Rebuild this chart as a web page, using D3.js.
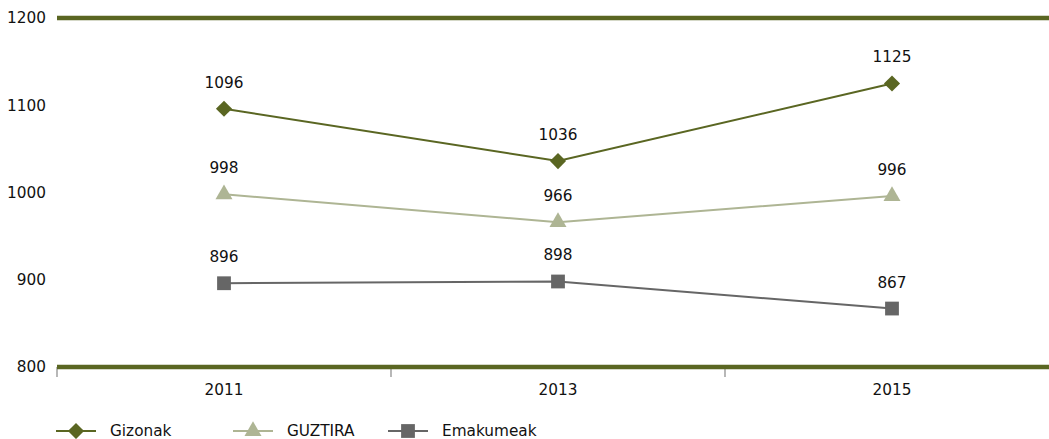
<!DOCTYPE html>
<html><head><meta charset="utf-8">
<script src="https://cdn.jsdelivr.net/npm/d3@7/dist/d3.min.js"></script>
<style>body{margin:0;background:#fff}svg{display:block;font-family:"DejaVu Sans",Verdana,sans-serif}</style>
</head><body><svg id="c" width="1049" height="439"></svg>
<script>
const categories = ["2011","2013","2015"];
const seriesNames = ["Gizonak","GUZTIRA","Emakumeak"];
const gizonak = [1096,1036,1125];
const guztira = [998,966,996];
const emakumeak = [896,898,867];
const yTicks = [800,900,1000,1100,1200];
const colors = ["#5a6622","#aeb594","#666666"];
const series = [gizonak, guztira, emakumeak];

const svg = d3.select("#c");
const x = d3.scaleBand().domain(categories).range([57,1059]);
const y = d3.scaleLinear().domain([800,1200]).range([367,18]);
const FS = 15.3;

function marker(sel, k){
  if(k===0){
    sel.append("rect").attr("x",-5.8).attr("y",-5.8).attr("width",11.6).attr("height",11.6)
      .attr("transform",function(){return (this.getAttribute("data-t")||"")+" rotate(45)";})
      .attr("fill",colors[k]);
  }
}
const symGen = [
  d3.symbol().type(d3.symbolSquare).size(130),
  d3.symbol().type(d3.symbolTriangle).size(125),
  d3.symbol().type(d3.symbolSquare).size(190)
];
const rot = [45,0,0];

// y labels
svg.append("g").selectAll("text").data(yTicks).join("text")
  .attr("x",46).attr("y",d=>y(d)).attr("dy","0.35em").attr("text-anchor","end")
  .attr("font-size",FS).attr("fill","#111").text(d=>d);

// x ticks
const tickXs = categories.map(c=>x(c));
svg.append("g").selectAll("line").data(tickXs).join("line")
  .attr("x1",d=>d).attr("x2",d=>d).attr("y1",367).attr("y2",377)
  .attr("stroke","#888").attr("stroke-width",1.2);

// thick lines at top and bottom
svg.append("g").selectAll("line").data([1200,800]).join("line")
  .attr("x1",57).attr("x2",1049).attr("y1",d=>y(d)).attr("y2",d=>y(d))
  .attr("stroke","#5a6622").attr("stroke-width",4.5);

svg.append("g").selectAll("text").data(categories).join("text")
  .attr("x",d=>x(d)+x.bandwidth()/2).attr("y",390).attr("dy","0.35em")
  .attr("text-anchor","middle").attr("font-size",FS).attr("fill","#111").text(d=>d);

const cx = c => x(c)+x.bandwidth()/2;
const line = d3.line().x((d,i)=>cx(categories[i])).y(d=>y(d));
series.forEach((s,k)=>{
  const g = svg.append("g");
  g.append("path").datum(s).attr("d",line).attr("fill","none")
    .attr("stroke",colors[k]).attr("stroke-width",2);
  g.selectAll("path.m").data(s).join("path").attr("class","m")
    .attr("transform",(d,i)=>`translate(${cx(categories[i])},${y(d)}) rotate(${rot[k]})`)
    .attr("d",symGen[k]).attr("fill",colors[k]);
  g.selectAll("text").data(s).join("text")
    .attr("x",(d,i)=>cx(categories[i])).attr("y",d=>y(d)-21)
    .attr("text-anchor","middle").attr("font-size",FS).attr("fill","#111").text(d=>d);
});

// legend
const legX = [56,233,388];
seriesNames.forEach((n,k)=>{
  const g = svg.append("g").attr("transform",`translate(${legX[k]},431)`);
  g.append("line").attr("x1",0).attr("x2",40).attr("stroke",colors[k]).attr("stroke-width",2);
  g.append("path").attr("transform",`translate(20,0) rotate(${rot[k]})`)
    .attr("d",symGen[k]).attr("fill",colors[k]);
  g.append("text").attr("x",54).attr("dy","0.35em").attr("font-size",FS).attr("fill","#111").text(n);
});
</script></body></html>
